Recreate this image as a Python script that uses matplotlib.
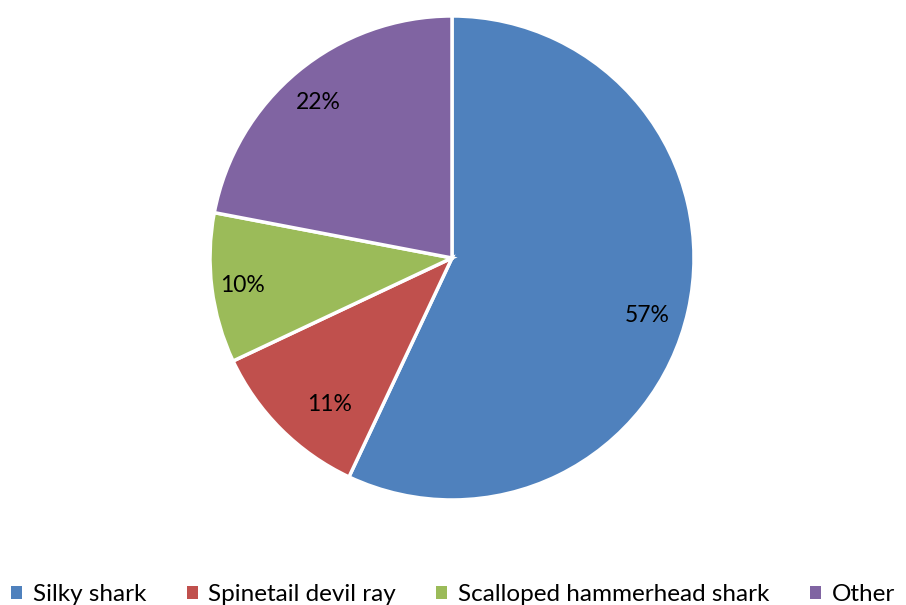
import matplotlib
matplotlib.use("Agg")
import matplotlib.pyplot as plt
from matplotlib.patches import Patch

categories = ["Silky shark", "Spinetail devil ray", "Scalloped hammerhead shark", "Other"]
values = [57, 11, 10, 22]
colors = ["#4F81BD", "#C0504D", "#9BBB59", "#8064A2"]

# label placement (layout only, in pie-radius units), mimicking Excel best-fit
label_pos = [(0.806, -0.236), (-0.504, -0.607), (-0.867, -0.112), (-0.554, 0.641)]

plt.rcParams['font.family'] = ['Lato', 'DejaVu Sans']

fig = plt.figure(figsize=(9.06, 6.05), dpi=100)
ax = fig.add_axes([0.2318, 0.1736, 0.5342, 0.8])
wedges, texts, autotexts = ax.pie(
    values, colors=colors, startangle=90, counterclock=False,
    autopct=lambda p: f"{p:.0f}%", pctdistance=0.84,
    wedgeprops=dict(edgecolor="white", linewidth=2.5),
    textprops=dict(fontsize=16.5, color="black"), radius=1.0)
for t, pos in zip(autotexts, label_pos):
    t.set_position(pos)
ax.set_xlim(-1, 1)
ax.set_ylim(-1, 1)
ax.set_aspect("equal")
ax.axis("off")

handles = [Patch(facecolor=c, edgecolor="none") for c in colors]
fig.legend(handles, categories, loc="center", bbox_to_anchor=(0.500, 0.017),
           ncol=4, frameon=False, fontsize=17.5, handlelength=0.45, handleheight=0.45,
           handletextpad=0.45, columnspacing=1.65, borderpad=0, borderaxespad=0)

fig.savefig("out.png", dpi=100)
